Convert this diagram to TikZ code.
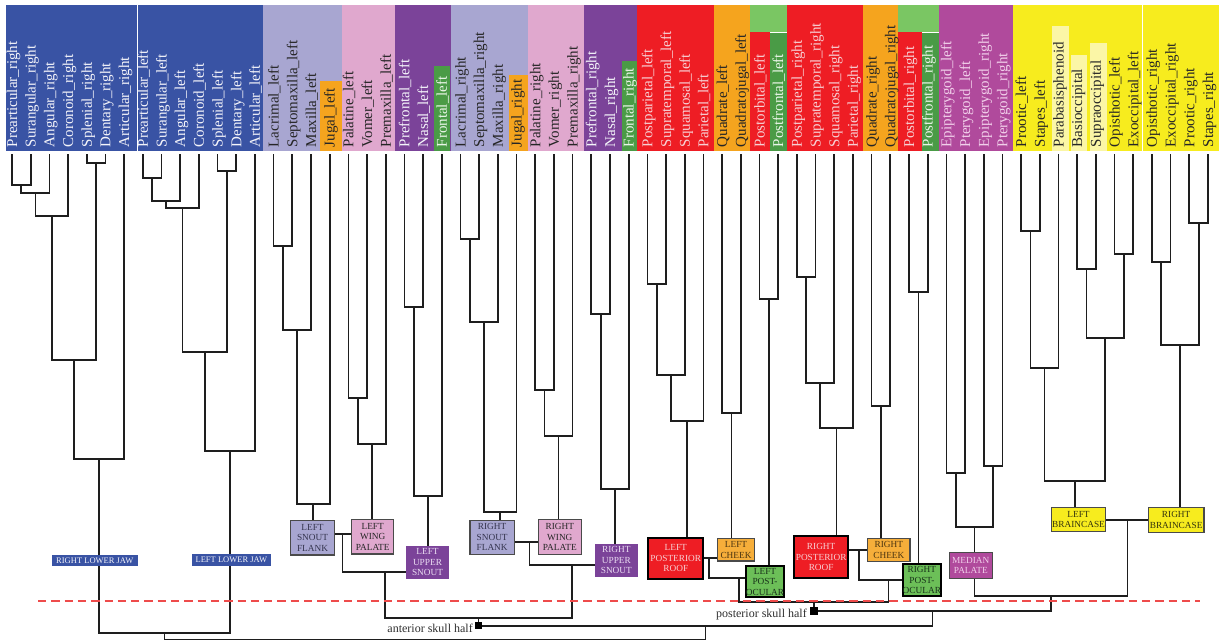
\documentclass[tikz,border=0pt]{standalone}
\usepackage{fontspec}
\setmainfont{Liberation Serif}
\usetikzlibrary{calc}
\pgfdeclarelayer{bands}
\pgfdeclarelayer{tree}
\pgfsetlayers{bands,tree,main}

% fills
\definecolor{cBlue}{HTML}{3953A4}
\definecolor{cLav}{HTML}{A8A6D1}
\definecolor{cOra}{HTML}{F5A41E}
\definecolor{cPink}{HTML}{E0A8CE}
\definecolor{cPurp}{HTML}{7B4399}
\definecolor{cDGreen}{HTML}{4A9B46}
\definecolor{cLGreen}{HTML}{7AC663}
\definecolor{cRed}{HTML}{EE1D24}
\definecolor{cMag}{HTML}{B04A9C}
\definecolor{cYel}{HTML}{F7EC1E}
\definecolor{cPaleYel}{HTML}{FBF6A6}
\definecolor{cBoxGreen}{HTML}{6CBF58}
\definecolor{cBoxOra}{HTML}{F6AE3A}
\definecolor{cLine}{HTML}{1E1E1E}
\definecolor{cDash}{HTML}{EE4B4B}
\definecolor{cBord}{HTML}{4A4A4A}
% text colours
\definecolor{tW}{HTML}{F4F4FA}
\definecolor{tD}{HTML}{262626}
\definecolor{tP}{HTML}{F7CFD3}
\definecolor{tM}{HTML}{F1CFEA}
\definecolor{tG}{HTML}{EAF5E8}
\definecolor{tSlate}{HTML}{34344E}
\definecolor{tLav}{HTML}{EADCF2}
\definecolor{tBrown}{HTML}{4A3410}
\definecolor{tDGreen}{HTML}{17301A}
\definecolor{tOlive}{HTML}{34340E}
\definecolor{tHalf}{HTML}{2E2E2E}

\tikzset{
  branch/.style={draw=cLine, line width=1.7pt},
  leaflab/.style={rotate=90, anchor=base west, inner sep=0pt, font=\fontsize{15}{15}\selectfont},
  grp/.style={rectangle, inner sep=0pt, align=center, font=\fontsize{9.3}{10.5}\selectfont},
  jawgrp/.style={grp, fill=cBlue, text=tW, font=\fontsize{8.5}{8.5}\selectfont},
  flankgrp/.style={grp, fill=cLav, draw=cBord, line width=1.2pt, text=tSlate},
  winggrp/.style={grp, fill=cPink, draw=cBord, line width=1.2pt, text=tD},
  uppergrp/.style={grp, fill=cPurp, text=tLav},
  roofgrp/.style={grp, fill=cRed, draw=black, line width=2pt, text=tP},
  cheekgrp/.style={grp, fill=cBoxOra, draw=cBord, line width=1.4pt, text=tBrown},
  ocugrp/.style={grp, fill=cBoxGreen, draw=black, line width=2pt, text=tDGreen},
  palgrp/.style={grp, fill=cMag, draw=cBord, line width=1.2pt, text=tM},
  braingrp/.style={grp, fill=cYel, draw=cBord, line width=1.4pt, text=tOlive},
  sqmarker/.style={rectangle, fill=black, minimum size=7.5pt, inner sep=0pt},
  halflab/.style={anchor=base east, inner sep=0pt, font=\fontsize{12}{12}\selectfont, text=tHalf},
  dashline/.style={draw=cDash, line width=1.6pt, dash pattern=on 8.3pt off 5pt},
}

% leaf: index, label, text colour
\newcommand{\lfnode}[3]{%
  \coordinate (l#1) at ({12+18.6875*#1},154);
  \node[leaflab, text=#3] (t#1) at ({17+18.6875*#1},147.5) {#2};}
% junction halfway between two children at a given height
\newcommand{\jnat}[4]{\path let \p1=(#1), \p2=(#2) in coordinate (#4) at ({(\x1+\x2)/2},#3);}
% junction plus the bracket joining both children
\newcommand{\mrgat}[4]{\jnat{#1}{#2}{#3}{#4}\draw[branch] (#1) |- (#4) -| (#2);}

\begin{document}
\begin{tikzpicture}[x=1pt, y=-1pt]
\useasboundingbox (0,0) rectangle (1219,641);

% ---------- coloured label bands ----------
\begin{pgfonlayer}{bands}
\fill[cBlue] (6,5) rectangle (137,150.7);
\fill[cBlue] (138.2,5) rectangle (262.7,150.7);
\fill[cLav] (262.7,5) rectangle (341.7,150.7);
\fill[cOra] (320,81) rectangle (341.7,150.7);
\fill[cPink] (341.7,5) rectangle (395,150.7);
\fill[cPurp] (395,5) rectangle (451,150.7);
\fill[cDGreen] (433.5,66) rectangle (450,150.7);
\fill[cLav] (451,5) rectangle (528.3,150.7);
\fill[cOra] (509.3,75) rectangle (527.7,150.7);
\fill[cPink] (528.3,5) rectangle (584,150.7);
\fill[cPurp] (584,5) rectangle (637.3,150.7);
\fill[cDGreen] (621.7,61) rectangle (637.3,150.7);
\fill[cRed] (637.3,5) rectangle (714,150.7);
\fill[cOra] (714,5) rectangle (750,150.7);
\fill[cLGreen] (750,5) rectangle (787,32);
\fill[cRed] (750,32) rectangle (770,150.7);
\fill[cDGreen] (770,32.5) rectangle (787,150.7);
\fill[cRed] (787,5) rectangle (863,150.7);
\fill[cOra] (863,5) rectangle (898,150.7);
\fill[cLGreen] (898,5) rectangle (939,32);
\fill[cRed] (898,32) rectangle (922,150.7);
\fill[cDGreen] (922,32.5) rectangle (939,150.7);
\fill[cMag] (939,5) rectangle (1013,150.7);
\fill[cYel] (1013,5) rectangle (1219,150.7);
\fill[white] (1141.8,5) rectangle (1142.8,150.7);
\fill[cPaleYel] (1052,26) rectangle (1069,150.7);
\fill[cPaleYel] (1071,55) rectangle (1087,150.7);
\fill[cPaleYel] (1090,43) rectangle (1107,150.7);
\end{pgfonlayer}

% ---------- leaves ----------
\lfnode{0}{Prearticular\_right}{tW}
\lfnode{1}{Surangular\_right}{tW}
\lfnode{2}{Angular\_right}{tW}
\lfnode{3}{Coronoid\_right}{tW}
\lfnode{4}{Splenial\_right}{tW}
\lfnode{5}{Dentary\_right}{tW}
\lfnode{6}{Articular\_right}{tW}
\lfnode{7}{Prearticular\_left}{tW}
\lfnode{8}{Surangular\_left}{tW}
\lfnode{9}{Angular\_left}{tW}
\lfnode{10}{Coronoid\_left}{tW}
\lfnode{11}{Splenial\_left}{tW}
\lfnode{12}{Dentary\_left}{tW}
\lfnode{13}{Articular\_left}{tW}
\lfnode{14}{Lacrimal\_left}{tD}
\lfnode{15}{Septomaxilla\_left}{tD}
\lfnode{16}{Maxilla\_left}{tD}
\lfnode{17}{Jugal\_left}{tD}
\lfnode{18}{Palatine\_left}{tD}
\lfnode{19}{Vomer\_left}{tD}
\lfnode{20}{Premaxilla\_left}{tD}
\lfnode{21}{Prefrontal\_left}{tW}
\lfnode{22}{Nasal\_left}{tW}
\lfnode{23}{Frontal\_left}{tG}
\lfnode{24}{Lacrimal\_right}{tD}
\lfnode{25}{Septomaxilla\_right}{tD}
\lfnode{26}{Maxilla\_right}{tD}
\lfnode{27}{Jugal\_right}{tD}
\lfnode{28}{Palatine\_right}{tD}
\lfnode{29}{Vomer\_right}{tD}
\lfnode{30}{Premaxilla\_right}{tD}
\lfnode{31}{Prefrontal\_right}{tW}
\lfnode{32}{Nasal\_right}{tW}
\lfnode{33}{Frontal\_right}{tG}
\lfnode{34}{Postparietal\_left}{tP}
\lfnode{35}{Supratemporal\_left}{tP}
\lfnode{36}{Squamosal\_left}{tP}
\lfnode{37}{Parietal\_left}{tP}
\lfnode{38}{Quadrate\_left}{tD}
\lfnode{39}{Quadratojugal\_left}{tD}
\lfnode{40}{Postorbital\_left}{tP}
\lfnode{41}{Postfrontal\_left}{tG}
\lfnode{42}{Postparietal\_right}{tP}
\lfnode{43}{Supratemporal\_right}{tP}
\lfnode{44}{Squamosal\_right}{tP}
\lfnode{45}{Parietal\_right}{tP}
\lfnode{46}{Quadrate\_right}{tD}
\lfnode{47}{Quadratojugal\_right}{tD}
\lfnode{48}{Postorbital\_right}{tP}
\lfnode{49}{Postfrontal\_right}{tG}
\lfnode{50}{Epipterygoid\_left}{tM}
\lfnode{51}{Pterygoid\_left}{tM}
\lfnode{52}{Epipterygoid\_right}{tM}
\lfnode{53}{Pterygoid\_right}{tM}
\lfnode{54}{Prootic\_left}{tD}
\lfnode{55}{Stapes\_left}{tD}
\lfnode{56}{Parabasisphenoid}{tD}
\lfnode{57}{Basioccipital}{tD}
\lfnode{58}{Supraoccipital}{tD}
\lfnode{59}{Opisthotic\_left}{tD}
\lfnode{60}{Exoccipital\_left}{tD}
\lfnode{61}{Opisthotic\_right}{tD}
\lfnode{62}{Exoccipital\_right}{tD}
\lfnode{63}{Prootic\_right}{tD}
\lfnode{64}{Stapes\_right}{tD}

% ---------- module boxes ----------
\node[jawgrp, minimum width=85.7pt, minimum height=10.7pt] (RLJ) at (94.85,560.35) {RIGHT LOWER JAW};
\node[jawgrp, minimum width=78.7pt, minimum height=11.4pt] (LLJ) at (231.35,560) {LEFT LOWER JAW};
\node[flankgrp, minimum width=43.6pt, minimum height=34.7pt] (LSF) at (312.5,537.65) {LEFT\\SNOUT\\FLANK};
\node[winggrp, minimum width=42pt, minimum height=34.7pt] (LWP) at (372.7,536.65) {LEFT\\WING\\PALATE};
\node[uppergrp, minimum width=43pt, minimum height=32.7pt] (LUS) at (427.5,562.35) {LEFT\\UPPER\\SNOUT};
\node[flankgrp, minimum width=44.3pt, minimum height=34pt] (RSF) at (492.15,537.3) {RIGHT\\SNOUT\\FLANK};
\node[winggrp, minimum width=43pt, minimum height=35.4pt] (RWP) at (559.8,537) {RIGHT\\WING\\PALATE};
\node[uppergrp, minimum width=42.7pt, minimum height=32.7pt] (RUS) at (616.35,560.35) {RIGHT\\UPPER\\SNOUT};
\node[roofgrp, minimum width=55pt, minimum height=41.3pt] (LPR) at (675.8,558.35) {LEFT\\POSTERIOR\\ROOF};
\node[cheekgrp, minimum width=36.6pt, minimum height=22.3pt] (LCH) at (736,549.85) {LEFT\\CHEEK};
\node[ocugrp, minimum width=38pt, minimum height=31.3pt] (LPO) at (765,581.65) {LEFT\\POST-\\OCULAR};
\node[roofgrp, minimum width=54.3pt, minimum height=42.3pt] (RPR) at (821.15,557.15) {RIGHT\\POSTERIOR\\ROOF};
\node[cheekgrp, minimum width=42.3pt, minimum height=23pt] (RCH) at (888.85,549.8) {RIGHT\\CHEEK};
\node[ocugrp, minimum width=38.3pt, minimum height=32pt] (RPO) at (921.85,580.3) {RIGHT\\POST-\\OCULAR};
\node[palgrp, minimum width=43pt, minimum height=25.6pt] (MP) at (970.8,565.5) {MEDIAN\\PALATE};
\node[braingrp, minimum width=54.4pt, minimum height=24pt] (LBC) at (1078.5,519.7) {LEFT\\BRAINCASE};
\node[braingrp, minimum width=55.7pt, minimum height=25pt] (RBC) at (1176.15,519.8) {RIGHT\\BRAINCASE};

% ---------- dendrogram ----------
\begin{pgfonlayer}{tree}
% right lower jaw
\mrgat{l0}{l1}{185}{a1}
\mrgat{a1}{l2}{193.3}{a2}
\mrgat{a2}{l3}{215.7}{a3}
\mrgat{l4}{l5}{163.3}{a4}
\mrgat{a3}{a4}{360}{a5}
\mrgat{a5}{l6}{459}{a6}
% left lower jaw
\mrgat{l7}{l8}{177.7}{b1}
\mrgat{b1}{l9}{201}{b2}
\mrgat{b2}{l10}{208.3}{b3}
\mrgat{l11}{l12}{170.7}{b4}
\mrgat{b3}{b4}{352.3}{b5}
\mrgat{b5}{l13}{451}{b6}
\mrgat{a6}{b6}{633}{jaw}
% left snout
\mrgat{l14}{l15}{246.3}{c1}
\mrgat{c1}{l16}{330}{c2}
\mrgat{c2}{l17}{504}{c3}
\mrgat{l18}{l19}{398}{c4}
\mrgat{c4}{l20}{443.7}{c5}
\mrgat{l21}{l22}{307}{c6}
\mrgat{c6}{l23}{496}{c7}
\draw[branch] (c3) -- (c3 |- LSF.north);
\draw[branch] (c5) -- (c5 |- LWP.north);
\draw[branch] (c7) -- (c7 |- LUS.north);
\jnat{c3}{c5}{534.3}{c8}
\draw[branch] (LSF.east |- c8) -- (LWP.west |- c8);
\jnat{c8}{c7}{572.3}{c9}
\draw[branch] (c8) |- (LUS.west |- c9);
% right snout
\mrgat{l24}{l25}{238.7}{d1}
\mrgat{d1}{l26}{322.3}{d2}
\mrgat{d2}{l27}{512}{d3}
\mrgat{l28}{l29}{390}{d4}
\mrgat{d4}{l30}{435.7}{d5}
\mrgat{l31}{l32}{314.3}{d6}
\mrgat{d6}{l33}{489}{d7}
\draw[branch] (d3) -- (d3 |- RSF.north);
\draw[branch] (d5) -- (d5 |- RWP.north);
\draw[branch] (d7) -- (d7 |- RUS.north);
\jnat{d3}{d5}{541.7}{d8}
\draw[branch] (RSF.east |- d8) -- (RWP.west |- d8);
\jnat{d8}{d7}{565}{d9}
\draw[branch] (d8) |- (RUS.west |- d9);
\mrgat{c9}{d9}{617.7}{ant}
% left roof, cheek and post-ocular
\mrgat{l34}{l35}{284}{e1}
\mrgat{e1}{l36}{375.3}{e2}
\mrgat{e2}{l37}{420.7}{e3}
\mrgat{l38}{l39}{413.3}{e4}
\mrgat{l40}{l41}{299.3}{e5}
\draw[branch] (e3) -- (e3 |- LPR.north);
\draw[branch] (e4) -- (e4 |- LCH.north);
\draw[branch] (e5) -- (e5 |- LPO.north);
\jnat{e3}{e4}{558.3}{e6}
\draw[branch] (LPR.east |- e6) -- (LCH.west |- e6);
\jnat{e6}{e5}{578.3}{e7}
\draw[branch] (e6) |- (LPO.west |- e7);
% right roof, cheek and post-ocular
\mrgat{l42}{l43}{276.7}{f1}
\mrgat{f1}{l44}{382.7}{f2}
\mrgat{f2}{l45}{428.3}{f3}
\mrgat{l46}{l47}{405.7}{f4}
\mrgat{l48}{l49}{291.7}{f5}
\draw[branch] (f3) -- (f3 |- RPR.north);
\draw[branch] (f4) -- (f4 |- RCH.north);
\draw[branch] (f5) -- (f5 |- RPO.north);
\jnat{f3}{f4}{550}{f6}
\draw[branch] (RPR.east |- f6) -- (RCH.west |- f6);
\jnat{f6}{f5}{580}{f7}
\draw[branch] (f6) |- (RPO.west |- f7);
\mrgat{e7}{f7}{602.3}{post}
% palate
\mrgat{l50}{l51}{473.3}{g1}
\mrgat{l52}{l53}{466}{g2}
\mrgat{g1}{g2}{526.7}{g3}
\draw[branch] (g3) -- (g3 |- MP.north);
% braincase
\mrgat{l54}{l55}{231}{h1}
\mrgat{h1}{l56}{368}{h2}
\mrgat{l57}{l58}{269}{h3}
\mrgat{l59}{l60}{254}{h4}
\mrgat{h3}{h4}{337.7}{h5}
\mrgat{h2}{h5}{481}{h6}
\draw[branch] (h6) -- (h6 |- LBC.north);
\mrgat{l61}{l62}{261.7}{i1}
\mrgat{l63}{l64}{223.3}{i2}
\mrgat{i1}{i2}{344.7}{i3}
\draw[branch] (i3) -- (i3 |- RBC.north);
\jnat{h6}{i3}{520}{bc}
\draw[branch] (LBC.east |- bc) -- (RBC.west |- bc);
\jnat{g3}{bc}{595.7}{pb}
\draw[branch] (g3 |- MP.south) |- (pb) -| (bc);
% skull halves and root
\mrgat{post}{pb}{611}{pall}
\mrgat{ant}{pall}{625.7}{skull}
\jnat{jaw}{skull}{639.5}{root}
\draw[branch] (jaw) |- (root) -| (skull);
\end{pgfonlayer}

% ---------- dashed cut line, markers ----------
\coordinate (dashL) at (38,600.7);
\coordinate (dashR) at (1200,600.7);
\draw[dashline] (dashL) -- (dashR);
\node[sqmarker] (antmk) at (ant |- skull) {};
\node[sqmarker] (postmk) at (post |- pall) {};
\node[halflab] (antlab) at (473,632.5) {anterior skull half};
\node[halflab] (postlab) at (807,617.3) {posterior skull half};
\end{tikzpicture}
\end{document}
